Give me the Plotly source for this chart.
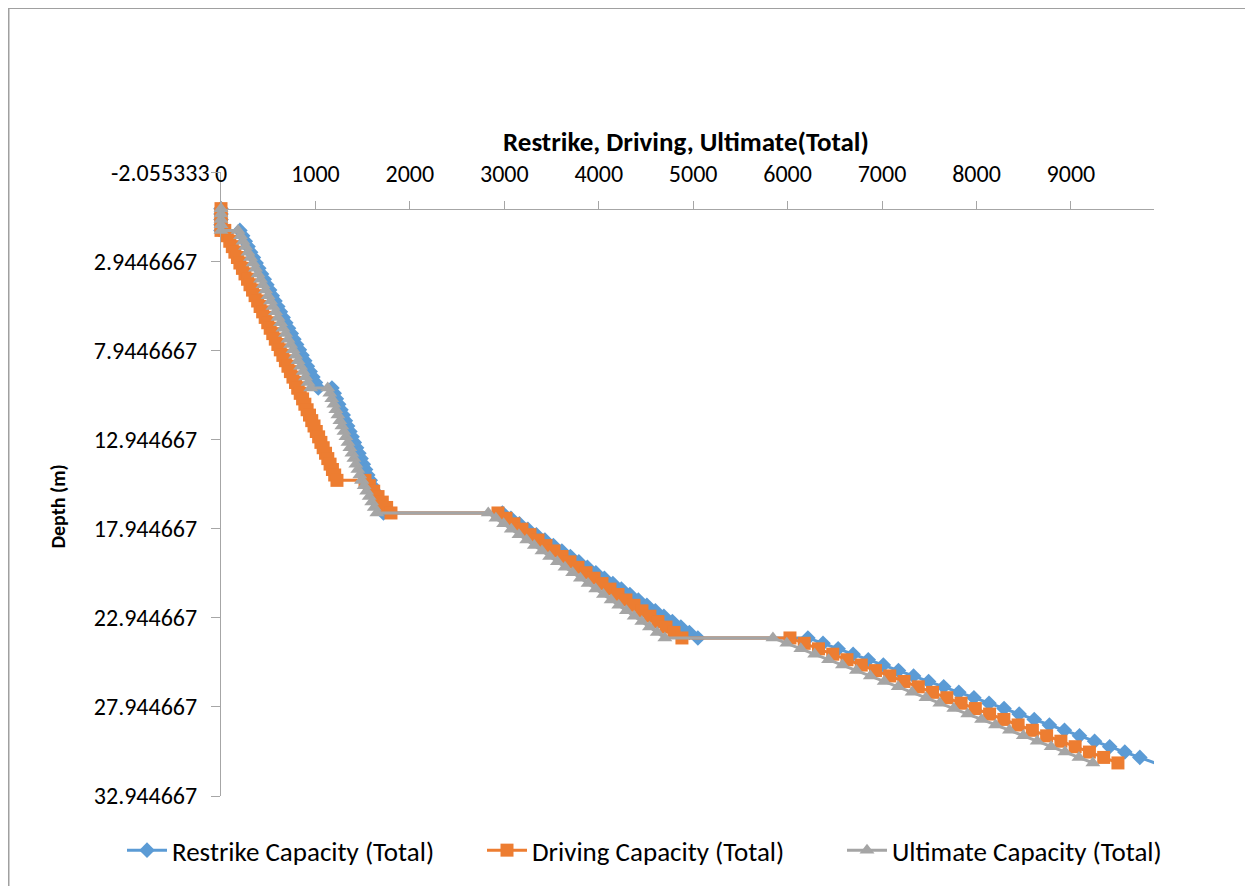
import plotly.graph_objects as go

# ---- data ----
depth = [0, 0.30, 0.61, 0.91, 1.22, 1.22,
         1.52, 1.83, 2.13, 2.44, 2.74, 3.05, 3.35, 3.66, 3.96, 4.27, 4.57, 4.88, 5.18, 5.49, 5.79,
         6.10, 6.40, 6.71, 7.01, 7.32, 7.62, 7.92, 8.23, 8.53, 8.84, 9.14, 9.45, 9.75, 10.06, 10.06,
         10.36, 10.67, 10.97, 11.28, 11.58, 11.89, 12.19, 12.50, 12.80, 13.11, 13.41, 13.72, 14.02,
         14.33, 14.63, 14.94, 15.24, 15.24,
         15.54, 15.85, 16.15, 16.46, 16.76, 17.07, 17.07,
         17.37, 17.68, 17.98, 18.29, 18.59, 18.90, 19.20, 19.51, 19.81, 20.12, 20.42, 20.73, 21.03,
         21.34, 21.64, 21.95, 22.25, 22.56, 22.86, 23.16, 23.47, 23.77, 24.08, 24.08,
         24.38, 24.69, 24.99, 25.30, 25.60, 25.91, 26.21, 26.52, 26.82, 27.13, 27.43, 27.74, 28.04,
         28.35, 28.65, 28.96, 29.26, 29.57, 29.87, 30.18, 30.48, 30.78, 31.09]

restrike = [0, 0, 0, 0, 0, 200,
            229, 257, 286, 314, 343, 372, 400, 429, 458, 486, 515, 543, 572, 601, 629,
            658, 686, 715, 744, 772, 801, 830, 858, 887, 915, 944, 973, 1001, 1030, 1175,
            1199, 1222, 1246, 1270, 1294, 1317, 1341, 1365, 1388, 1412, 1436, 1460, 1483,
            1507, 1531, 1554, 1578, 1578,
            1602, 1625, 1649, 1673, 1697, 1720, 2980,
            3070, 3160, 3250, 3340, 3430, 3520, 3610, 3700, 3790, 3880, 3970, 4060, 4150,
            4240, 4330, 4420, 4510, 4600, 4690, 4780, 4870, 4960, 5050, 6215,
            6375, 6535, 6694, 6854, 7014, 7174, 7334, 7493, 7653, 7813, 7973, 8133, 8292,
            8452, 8612, 8772, 8932, 9091, 9251, 9411, 9571, 9730, 9890]

driving = [0, 0, 0, 0, 0, 40,
           67, 93, 120, 147, 174, 200, 227, 254, 281, 307, 334, 361, 388, 414, 441,
           468, 495, 521, 548, 575, 602, 628, 655, 682, 709, 735, 762, 789, 815, 815,
           839, 864, 888, 912, 937, 961, 985, 1009, 1034, 1058, 1082, 1107, 1131,
           1155, 1180, 1204, 1228, 1525,
           1571, 1617, 1663, 1708, 1754, 1800, 2933,
           3018, 3102, 3187, 3272, 3357, 3441, 3526, 3611, 3695, 3780, 3865, 3950, 4034,
           4119, 4204, 4288, 4373, 4458, 4542, 4627, 4712, 4797, 4881, 6025,
           6176, 6327, 6478, 6629, 6780, 6931, 7082, 7233, 7384, 7535, 7686, 7837, 7988,
           8139, 8290, 8441, 8592, 8743, 8894, 9045, 9196, 9347, 9498]

ultimate = [0, 0, 0, 0, 0, 180,
            207, 233, 260, 286, 313, 339, 366, 392, 419, 445, 472, 498, 525, 551, 578,
            604, 631, 657, 684, 710, 737, 763, 790, 816, 843, 869, 896, 922, 950, 1130,
            1152, 1173, 1195, 1216, 1238, 1259, 1280, 1302, 1323, 1344, 1365, 1386, 1407,
            1428, 1449, 1470, 1490, 1490,
            1516, 1542, 1569, 1596, 1623, 1650, 2830,
            2911, 2993, 3074, 3155, 3237, 3318, 3399, 3480, 3562, 3643, 3724, 3806, 3887,
            3968, 4050, 4131, 4212, 4293, 4375, 4456, 4537, 4619, 4700, 5845,
            5992, 6140, 6287, 6434, 6581, 6729, 6876, 7023, 7171, 7318, 7465, 7612, 7760,
            7907, 8054, 8202, 8349, 8496, 8643, 8791, 8938, 9085, 9233]

series_names = ["Restrike Capacity (Total)", "Driving Capacity (Total)", "Ultimate Capacity (Total)"]
series_colors = ["#5B9BD5", "#ED7D31", "#A5A5A5"]
series_symbols = ["diamond", "square", "triangle-up"]
series_sizes = [12, 13, 13]

x_ticks = [0, 1000, 2000, 3000, 4000, 5000, 6000, 7000, 8000, 9000]
y_ticks = [-2.055333, 2.9446667, 7.9446667, 12.944667, 17.944667, 22.944667, 27.944667, 32.944667]
y_ticktext = ["-2.055333", "2.9446667", "7.9446667", "12.944667", "17.944667",
              "22.944667", "27.944667", "32.944667"]
x_title = "Restrike, Driving, Ultimate(Total)"
y_title = "Depth (m)"

# ---- figure (page has an 8px body margin; work in page pixels) ----
OFF = 8
W, H = 1253 - OFF, 886 - OFF
P_LEFT, P_RIGHT, P_TOP, P_BOTTOM = 221, 1154, 172.4, 796.4   # plot area in page px
ML = P_LEFT - OFF
MT = P_TOP - OFF
MR = W - (P_RIGHT - OFF)
MB = H - (P_BOTTOM - OFF)
PW, PH = P_RIGHT - P_LEFT, P_BOTTOM - P_TOP
y_min, y_max = y_ticks[0], y_ticks[-1]
x_max = 9880

FONT = "Carlito, Calibri, 'Liberation Sans', Arial, sans-serif"

fig = go.Figure()
for vals, name, col, sym, sz in zip([restrike, driving, ultimate], series_names, series_colors,
                                    series_symbols, series_sizes):
    fig.add_trace(go.Scatter(
        x=vals, y=depth, name=name, mode="lines+markers",
        line=dict(color=col, width=3),
        marker=dict(symbol=sym, size=sz, color=col, line=dict(width=0)),
        cliponaxis=False,
    ))

def px_x(p):
    return (p - P_LEFT) / PW

def px_y(p):
    return (P_BOTTOM - p) / PH

x_axis_pos = (y_max - 0) / (y_max - y_min)

fig.update_layout(
    width=W, height=H,
    margin=dict(l=ML, r=MR, t=MT, b=MB, autoexpand=False),
    paper_bgcolor="white", plot_bgcolor="white",
    font=dict(family=FONT, size=24, color="#000000"),
    showlegend=True,
    legend=dict(orientation="h", x=px_x(122), xanchor="left", y=px_y(851), yanchor="middle",
                font=dict(size=27, color="#000000"), entrywidth=305, entrywidthmode="pixels",
                itemwidth=40, bgcolor="rgba(0,0,0,0)"),
    xaxis=dict(range=[0, x_max], anchor="free", position=x_axis_pos, side="top",
               tickvals=x_ticks, ticktext=[str(v) for v in x_ticks],
               showline=True, linecolor="#A6A6A6", linewidth=1,
               ticks="outside", ticklen=8, tickcolor="#A6A6A6", tickwidth=1,
               ticklabelstandoff=9,
               showgrid=False, zeroline=False,
               tickfont=dict(size=24, color="#000000")),
    yaxis=dict(range=[y_max, y_min], domain=[0, 1],
               tickvals=y_ticks, ticktext=[""] + y_ticktext[1:],
               showline=True, linecolor="#A6A6A6", linewidth=1,
               ticks="outside", ticklen=9, tickcolor="#A6A6A6", tickwidth=1,
               ticklabelstandoff=9,
               showgrid=False, zeroline=False,
               tickfont=dict(size=24, color="#000000")),
    annotations=[
        dict(text=y_ticktext[0], xref="paper", yref="y",
             x=px_x(212), y=y_ticks[0], xanchor="right", yanchor="middle",
             showarrow=False, font=dict(size=24, color="#000000")),
        dict(text="<b>" + x_title + "</b>", xref="paper", yref="paper",
             x=px_x(686), y=px_y(142), xanchor="center", yanchor="middle",
             showarrow=False, font=dict(size=27, color="#000000")),
        dict(text="<b>" + y_title + "</b>", xref="paper", yref="paper",
             x=px_x(58), y=px_y(507), xanchor="center", yanchor="middle",
             textangle=-90, showarrow=False, font=dict(size=20, color="#000000")),
    ],
    shapes=[
        dict(type="rect", xref="paper", yref="paper",
             x0=px_x(OFF + 0.75), x1=px_x(1270), y0=px_y(900), y1=px_y(OFF + 0.75),
             line=dict(color="#A0A0A0", width=1.5), fillcolor="rgba(0,0,0,0)", layer="below"),
    ],
)

fig.write_html("out.html")
